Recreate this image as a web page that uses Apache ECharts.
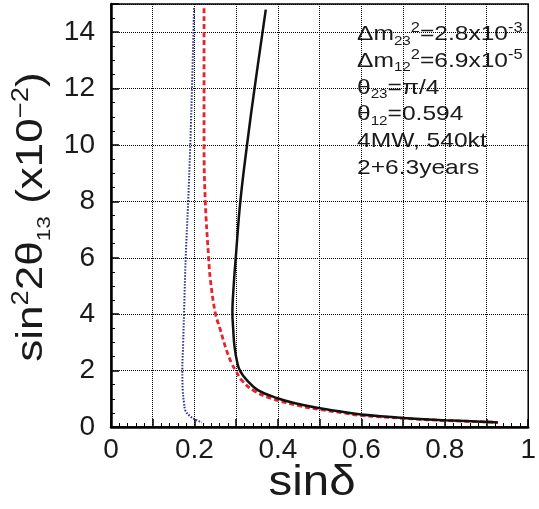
<!DOCTYPE html>
<html>
<head>
<meta charset="utf-8">
<script src="https://cdn.jsdelivr.net/npm/echarts@6/dist/echarts.min.js"></script>
<style>
html, body { margin: 0; padding: 0; background: #fff; }
#main { width: 539px; height: 509px; }
</style>
</head>
<body>
<div id="main"></div>
<script>
// sin(delta) vs sin^2 2theta13 (x10^-2)
var blueCurve = [
    [0.199, 14.85], [0.195, 12.5], [0.190, 10], [0.185, 8], [0.179, 6],
    [0.175, 4], [0.173, 3], [0.171, 2], [0.172, 1.3], [0.175, 0.85],
    [0.179, 0.56], [0.190, 0.38], [0.202, 0.26], [0.218, 0.17]
];
var redCurve = [
    [0.223, 14.85], [0.223, 12], [0.223, 10], [0.226, 8], [0.234, 6],
    [0.238, 5.25], [0.250, 4.04], [0.262, 3.45], [0.274, 2.85], [0.289, 2.26],
    [0.299, 2.0], [0.3125, 1.67], [0.340, 1.31], [0.383, 1.02], [0.455, 0.74],
    [0.500, 0.62], [0.557, 0.50], [0.600, 0.41], [0.700, 0.31], [0.800, 0.23],
    [0.900, 0.18], [0.927, 0.16]
];
var blackCurve = [
    [0.371, 14.8], [0.344, 12], [0.326, 10], [0.310, 8], [0.299, 6],
    [0.294, 5], [0.291, 4.04], [0.293, 3.45], [0.296, 2.85], [0.303, 2.26],
    [0.309, 2.0], [0.325, 1.67], [0.352, 1.31], [0.399, 1.02], [0.439, 0.85],
    [0.494, 0.68], [0.557, 0.53], [0.600, 0.44], [0.700, 0.32], [0.800, 0.24],
    [0.900, 0.18], [0.927, 0.16]
];
var xTickLabels = ['0', '0.2', '0.4', '0.6', '0.8', '1'];
var yTickLabels = ['0', '2', '4', '6', '8', '10', '12', '14'];

var FONT = '"Liberation Sans", Arial, Helvetica, sans-serif';
var INK = '#1a1a1a';

var myChart = echarts.init(document.getElementById('main'));
myChart.setOption({
    animation: false,
    backgroundColor: '#fff',
    grid: {
        left: 111, right: 4, top: 4, bottom: 82,
        show: true, borderColor: '#000', borderWidth: 1.5
    },
    xAxis: {
        type: 'value', min: 0, max: 1, interval: 0.1,
        axisLine: { lineStyle: { color: '#000', width: 2.5 } },
        axisTick: { inside: true, length: 8, lineStyle: { color: '#000', width: 1.5 } },
        minorTick: { show: true, splitNumber: 5, length: 4, lineStyle: { color: '#000', width: 1 } },
        splitLine: { show: true, lineStyle: { color: '#000', type: 'dotted', width: 1 } },
        axisLabel: {
            margin: 9, color: INK, fontSize: 28, fontFamily: FONT,
            formatter: function (v) {
                var s = String(Math.round(v * 10) / 10);
                return xTickLabels.indexOf(s) >= 0 ? s : '';
            }
        }
    },
    yAxis: {
        type: 'value', min: 0, max: 15, interval: 2,
        axisLine: { lineStyle: { color: '#000', width: 2.5 } },
        axisTick: { inside: true, length: 8, lineStyle: { color: '#000', width: 1.5 } },
        minorTick: { show: true, splitNumber: 4, length: 4, lineStyle: { color: '#000', width: 1 } },
        splitLine: { show: true, lineStyle: { color: '#000', type: 'dotted', width: 1 } },
        axisLabel: {
            margin: 16, color: INK, fontSize: 28, fontFamily: FONT,
            formatter: function (v) {
                var s = String(v);
                return yTickLabels.indexOf(s) >= 0 ? s : '';
            }
        }
    },
    series: [
        {
            type: 'line', data: blueCurve, showSymbol: false, smooth: 0.4,
            lineStyle: { color: '#2b2f8f', width: 2, type: [1.5, 1.5] }
        },
        {
            type: 'line', data: redCurve, showSymbol: false, smooth: 0.4,
            lineStyle: { color: '#e8232b', width: 2.8, type: [5, 3] }
        },
        {
            type: 'line', data: blackCurve, showSymbol: false, smooth: 0.4,
            lineStyle: { color: '#111', width: 2.5, type: 'solid' }
        }
    ],
    graphic: [
        {
            type: 'text', x: 357, y: 21, scaleX: 1.17,
            style: {
                text: [
                    'Δm{sub|23}{sup|2}=2.8x10{sup|-3}',
                    'Δm{sub|12}{sup|2}=6.9x10{sup|-5}',
                    'θ{sub|23}=π/4',
                    'θ{sub|12}=0.594',
                    '4MW, 540kt',
                    '2+6.3years'
                ].join('\n'),
                textAlign: 'left', textVerticalAlign: 'top',
                fill: INK, font: '21px ' + FONT, lineHeight: 26.7,
                rich: {
                    sub: { fontSize: 13, fontFamily: FONT, fill: INK, verticalAlign: 'bottom', lineHeight: 21 },
                    sup: { fontSize: 14, fontFamily: FONT, fill: INK, verticalAlign: 'top', lineHeight: 14 }
                }
            }
        },
        {
            type: 'text', x: 32, y: 217, rotation: Math.PI / 2, scaleX: 1.19,
            style: {
                text: 'sin{sup|2}2θ{sub|13} (x10{sup|−2})',
                textAlign: 'center', textVerticalAlign: 'middle',
                fill: INK, font: '37px ' + FONT, lineHeight: 44,
                rich: {
                    sup: { fontSize: 23, fontFamily: FONT, fill: INK, verticalAlign: 'top', lineHeight: 24 },
                    sub: { fontSize: 19, fontFamily: FONT, fill: INK, verticalAlign: 'bottom', lineHeight: 30 }
                }
            }
        },
        {
            type: 'text', x: 312, y: 483, scaleX: 1.13,
            style: {
                text: 'sinδ',
                textAlign: 'center', textVerticalAlign: 'middle',
                fill: INK, font: '42px ' + FONT
            }
        }
    ]
});
</script>
</body>
</html>
